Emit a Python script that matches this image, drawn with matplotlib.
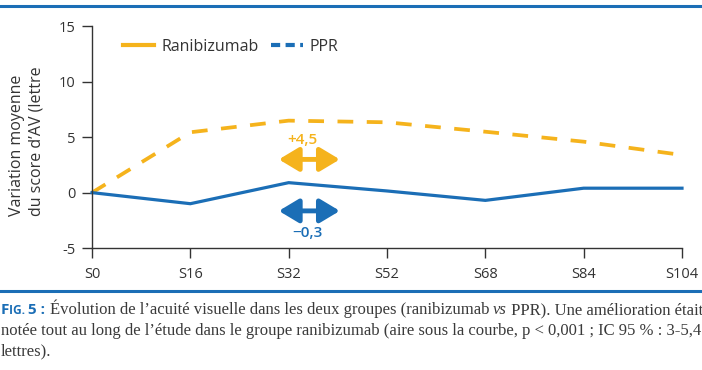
import matplotlib
matplotlib.use("Agg")
import matplotlib.pyplot as plt
from matplotlib.lines import Line2D

# ---- data ----
weeks = ["S0", "S16", "S32", "S52", "S68", "S84", "S104"]
ranibizumab = [0.0, 5.45, 6.5, 6.35, 5.5, 4.6, 3.4]
ppr = [0.0, -1.0, 0.9, 0.15, -0.7, 0.4, 0.4]
yticks = [-5, 0, 5, 10, 15]
ranibizumab_label = "+4,5"
ppr_label = "\u22120,3"

YELLOW = "#F5B31C"
BLUE = "#1B6EB6"
DARK = "#333333"
FONT = "Open Sans"

fig = plt.figure(figsize=(7.02, 3.70), dpi=100)
W, H = 702, 370

def fx(px):
    return px / W

def fy(py):
    return 1 - py / H

ax = fig.add_axes([fx(92), fy(248), fx(682) - fx(92), fy(26.5) - fy(248)])
x = list(range(len(weeks)))

ax.plot(x, ranibizumab, color=YELLOW, lw=2.7, dashes=(4.2, 3.6), clip_on=False,
        solid_capstyle="butt", dash_capstyle="butt")
ax.plot(x, ppr, color=BLUE, lw=2.3, clip_on=False, solid_joinstyle="miter")

ax.set_xlim(0, len(weeks) - 1)
ax.set_ylim(-5, 15)
ax.set_xticks(x)
ax.set_xticklabels(weeks)
ax.set_yticks(yticks)
ax.set_yticklabels([str(v) for v in yticks])
for s in ["top", "right"]:
    ax.spines[s].set_visible(False)
for s in ["left", "bottom"]:
    ax.spines[s].set_color(DARK)
    ax.spines[s].set_linewidth(1.0)
ax.tick_params(axis="both", direction="out", length=7, width=1.0, color=DARK,
               labelcolor=DARK, labelsize=10.5)
ax.tick_params(axis="x", pad=7)
ax.tick_params(axis="y", pad=5)
for lab in ax.get_xticklabels() + ax.get_yticklabels():
    lab.set_family(FONT)

# double arrows with labels
arrow_x = (1.90, 2.52)
for yv, c in [(3.0, YELLOW), (-1.65, BLUE)]:
    ax.annotate("", xy=(arrow_x[1], yv), xytext=(arrow_x[0], yv),
                arrowprops=dict(arrowstyle="<|-|>,head_length=1.0,head_width=0.6",
                                lw=3.5, color=c, shrinkA=0, shrinkB=0,
                                mutation_scale=12))
ax.text(2.14, 4.75, ranibizumab_label, color=YELLOW, fontsize=11, family=FONT,
        fontweight="semibold", ha="center", va="center")
ax.text(2.19, -3.65, ppr_label, color=BLUE, fontsize=11, family=FONT,
        fontweight="semibold", ha="center", va="center")

# legend (styles as in the reference)
handles = [Line2D([], [], color=YELLOW, lw=3.0),
           Line2D([], [], color=BLUE, lw=3.0, dashes=(2.2, 1.3))]
leg = ax.legend(handles, ["Ranibizumab", "PPR"], ncol=2, frameon=False,
                loc="center left", bbox_to_anchor=((123 - 92) / 590, (248 - 47) / 221.5),
                borderpad=0, borderaxespad=0, handlelength=1.95, handletextpad=0.45,
                columnspacing=0.8, prop={"family": FONT, "size": 11.5})
for t in leg.get_texts():
    t.set_color(DARK)

# y label
fig.text(fx(27), fy(216), "Variation moyenne\ndu score d\u2019AV (lettre", rotation=90,
         ha="center", va="bottom", multialignment="left", family=FONT, fontsize=11.5,
         color=DARK, linespacing=1.25)

# blue rules
fig.add_artist(Line2D([0, 1], [fy(6), fy(6)], transform=fig.transFigure, color=BLUE, lw=2.2))
fig.add_artist(Line2D([0, 1], [fy(291), fy(291)], transform=fig.transFigure, color=BLUE, lw=2.2))

# caption
SERIF = "Liberation Serif"
CAP_COLOR = "#3a3a3a"
line2 = ("not\u00e9e tout au long de l\u2019\u00e9tude dans le groupe ranibizumab "
         "(aire sous la courbe, p < 0,001 ; IC 95 % : 3-5,4")
fig.canvas.draw()
renderer = fig.canvas.get_renderer()
probe = fig.text(0, 0, line2, family=SERIF, fontsize=10)
wprobe = probe.get_window_extent(renderer=renderer).width
probe.remove()
cs = 10 * 698 / wprobe

def place(pieces, x0, ybase):
    xpos = x0
    for txt, kw in pieces:
        t = fig.text(fx(xpos), fy(ybase), txt, va="baseline", ha="left", **kw)
        bb = t.get_window_extent(renderer=renderer)
        xpos += bb.width
    return xpos

normal = dict(family=SERIF, fontsize=cs, color=CAP_COLOR)
italic = dict(family=SERIF, fontsize=cs, color=CAP_COLOR, style="italic")
figb = dict(family=FONT, fontsize=cs * 0.92, color=BLUE, fontweight="bold")
figs = dict(family=FONT, fontsize=cs * 0.72, color=BLUE, fontweight="bold")

place([("F", figb), ("IG. ", figs), ("5 : ", figb),
       ("\u00c9volution de l\u2019acuit\u00e9 visuelle dans les deux groupes (ranibizumab ", normal),
       ("vs", italic), (" PPR). Une am\u00e9lioration \u00e9tait", normal)], 1, 314)
place([(line2, normal)], 1, 335)
place([("lettres).", normal)], 1, 355)

fig.savefig("out.png", dpi=100)
